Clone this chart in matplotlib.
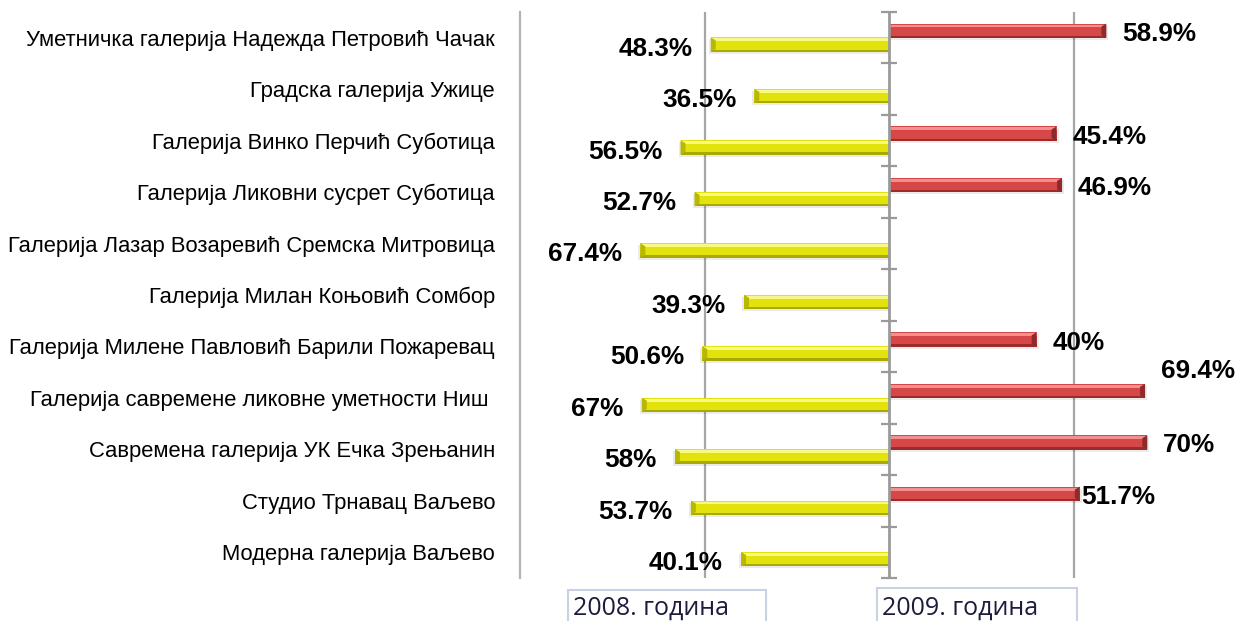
import matplotlib
matplotlib.use("Agg")
import matplotlib.pyplot as plt
from matplotlib.patches import Rectangle, Polygon

categories = [
    "Уметничка галерија Надежда Петровић Чачак",
    "Градска галерија Ужице",
    "Галерија Винко Перчић Суботица",
    "Галерија Ликовни сусрет Суботица",
    "Галерија Лазар Возаревић Сремска Митровица",
    "Галерија Милан Коњовић Сомбор",
    "Галерија Милене Павловић Барили Пожаревац",
    "Галерија савремене ликовне уметности Ниш ",
    "Савремена галерија УК Ечка Зрењанин",
    "Студио Трнавац Ваљево",
    "Модерна галерија Ваљево",
]
values_2008 = [48.3, 36.5, 56.5, 52.7, 67.4, 39.3, 50.6, 67, 58, 53.7, 40.1]
values_2009 = [58.9, None, 45.4, 46.9, None, None, 40, 69.4, 70, 51.7, None]
series_labels = ["2008. година", "2009. година"]

# manual label nudges (pixels) for 2009 labels, as in the original
label_nudge_2009 = {7: (0, 23), 9: (-15, 0)}

W, H = 1241, 621
fig = plt.figure(figsize=(W / 100, H / 100), dpi=100)
ax = fig.add_axes([520 / W, 1 - 578 / H, 738 / W, 566 / H])
ax.set_xlim(-100, 100)
ax.set_ylim(len(categories) - 0.5, -0.5)

for s in ["top", "right", "bottom"]:
    ax.spines[s].set_visible(False)
ax.spines["left"].set_color("#b4b4b4")
ax.spines["left"].set_linewidth(1.6)
ax.set_xticks([])
ax.set_yticks(range(len(categories)))
ax.set_yticklabels(categories, family="Liberation Sans", fontsize=15.8, color="black")
ax.tick_params(axis="y", length=0, pad=18)

# gridlines
for gx in (-50, 50):
    ax.axvline(gx, color="#a6a6a6", lw=1.6, zorder=1)
# center axis with ticks
ax.axvline(0, color="#9a9a9a", lw=2, zorder=4)
dx_tick = 8 * 200 / 738
for b in range(len(categories) + 1):
    yb = b - 0.5
    ax.plot([-dx_tick, dx_tick], [yb, yb], color="#9a9a9a", lw=1.6, zorder=4,
            clip_on=False, solid_capstyle="butt")

h = 0.28
px_x = 200 / 738  # data units per px in x
px_y = 11 / 566

def draw_bar(y, v, base, light, dark, bevel):
    sgn = 1 if v > 0 else -1
    # shadow
    ax.barh(y + 2 * px_y, v + sgn * 2 * px_x, height=h,
            left=0, color="#000000", alpha=0.08, zorder=2, linewidth=0)
    ax.barh(y, v, height=h, left=0, color=base, zorder=3, linewidth=0)
    # top highlight
    ax.barh(y - h * 0.5 + h * 0.17, v, height=h * 0.2, left=0, color=light,
            zorder=3, linewidth=0)
    # bottom dark
    ax.barh(y + h * 0.5 - h * 0.08, v, height=h * 0.16, left=0, color=dark,
            zorder=3, linewidth=0)
    # end bevel
    bw = 5 * px_x
    poly = Polygon([(v, y - h / 2), (v, y + h / 2), (v - sgn * bw, y + h / 2 - 3 * px_y),
                    (v - sgn * bw, y - h / 2 + 3 * px_y)], closed=True,
                   color=bevel, zorder=3, linewidth=0)
    ax.add_patch(poly)

for i, v in enumerate(values_2008):
    y = i + 0.135
    draw_bar(y, -v, "#e2e20c", "#f8f884", "#a9a900", "#b8b800")
    ax.annotate(f"{v:g}%", xy=(-v, y), xytext=(-18, -4), textcoords="offset pixels",
                ha="right", va="center", fontsize=18.8, fontweight="bold",
                family="Liberation Sans", color="black", zorder=6)

for i, v in enumerate(values_2009):
    if v is None:
        continue
    y = i - 0.135
    draw_bar(y, v, "#d64848", "#f29090", "#9c2c2c", "#8e2a2a")
    ndx, ndy = label_nudge_2009.get(i, (0, 0))
    ax.annotate(f"{v:g}%", xy=(v, y), xytext=(16 + ndx, -3 + ndy), textcoords="offset pixels",
                ha="left", va="center", fontsize=18.8, fontweight="bold",
                family="Liberation Sans", color="black", zorder=6)

# series label boxes at bottom
boxes = [(568, 766, 590), (877, 1077, 588)]
for (x0, x1, y0), lab in zip(boxes, series_labels):
    r = Rectangle((x0 / W, 0 - 0.01), (x1 - x0) / W, (H - y0) / H + 0.01,
                  transform=fig.transFigure, facecolor="white", edgecolor="#c9d1e3",
                  lw=1.5, clip_on=False)
    fig.patches.append(r)
    fig.text((x0 + 5) / W, 1 - 608 / H, lab, family="Open Sans", fontsize=18,
             color="#1c1c3c", ha="left", va="center")

fig.savefig("out.png", dpi=100)
